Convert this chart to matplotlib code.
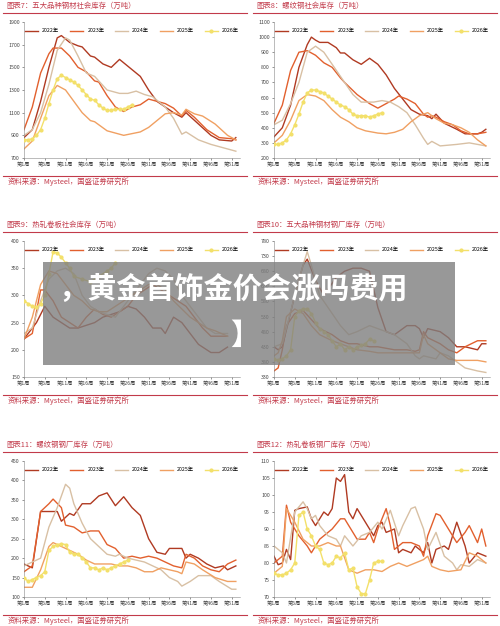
import matplotlib
matplotlib.use("Agg")
import matplotlib.pyplot as plt
from matplotlib.patches import Rectangle
from matplotlib.lines import Line2D

plt.rcParams['font.family'] = ['Noto Sans CJK SC', 'DejaVu Sans']

years = ["2022年", "2023年", "2024年", "2025年", "2026年"]
colors = ["#b03a22", "#e2602e", "#d8c0a4", "#f0a062", "#f3e06a"]
xtick_weeks = [1, 6, 11, 16, 21, 26, 31, 36, 41, 46, 51]
xtick_labels = ["第1周", "第6周", "第11周", "第16周", "第21周", "第26周", "第31周", "第36周", "第41周", "第46周", "第51周"]
source_text = "资料来源：Mysteel，国盛证券研究所"

titles = ["图表7：五大品种钢材社会库存（万吨）", "图表8：螺纹钢社会库存（万吨）",
          "图表9：热轧卷板社会库存（万吨）", "图表10：五大品种钢材钢厂库存（万吨）",
          "图表11：螺纹钢钢厂库存（万吨）", "图表12：热轧卷板钢厂库存（万吨）"]
yticks = [[700, 900, 1100, 1300, 1500, 1700, 1900],
          [200, 300, 400, 500, 600, 700, 800, 900, 1000, 1100],
          [150, 200, 250, 300, 350, 400],
          [330, 380, 430, 480, 530, 580, 630, 680, 730, 780],
          [100, 150, 200, 250, 300, 350, 400, 450],
          [70, 75, 80, 85, 90, 95, 100, 105, 110]]

# Panel 7
p7_2022_w = [1,3,5,7,9,10,12,14,15,17,18,20,22,24,27,29,31,33,35,37,39,40,43,46,48,51,52]
p7_2022_v = [880,950,1200,1500,1760,1780,1720,1690,1680,1600,1590,1530,1500,1570,1480,1420,1300,1200,1150,1100,1060,1100,1000,900,860,850,880]
p7_2023_w = [1,3,5,7,8,10,12,14,16,18,19,21,23,25,27,29,31,33,35,37,39,40,42,45,48,51,52]
p7_2023_v = [950,1150,1450,1620,1670,1670,1600,1500,1460,1380,1370,1250,1150,1110,1150,1170,1220,1200,1180,1140,1070,1120,1060,950,880,870,860]
p7_2024_w = [1,3,5,7,9,11,12,14,16,18,21,24,26,28,30,32,35,37,39,40,43,46,49,52]
p7_2024_v = [900,950,1100,1350,1650,1760,1740,1600,1450,1420,1300,1270,1270,1290,1260,1240,1150,1050,910,930,860,820,790,760]
p7_2025_w = [1,3,5,7,9,11,13,15,17,18,21,23,25,27,29,31,33,35,37,39,40,42,44,47,50,52]
p7_2025_v = [780,850,1050,1250,1340,1300,1200,1100,1030,1020,940,920,900,915,930,970,1030,1090,1100,1080,1130,1090,1070,1000,900,860]
p7_2026_w = list(range(1, 28))
p7_2026_v = [860,860,870,900,950,1050,1180,1300,1400,1430,1410,1390,1370,1340,1300,1260,1220,1210,1170,1140,1120,1120,1130,1130,1130,1150,1170]

# Panel 8
p8_2022_w = [1,3,5,7,9,10,11,12,14,16,17,18,20,22,24,26,28,30,32,34,36,38,39,40,42,45,47,50,51,52]
p8_2022_v = [340,400,550,800,950,1000,980,965,965,930,895,895,850,820,860,820,750,660,590,520,490,480,460,490,430,390,360,360,370,390]
p8_2023_w = [1,3,5,7,9,11,13,15,17,18,21,24,26,28,30,31,33,35,37,38,39,40,42,44,46,48,50,52]
p8_2023_v = [430,550,780,900,910,880,830,800,730,700,620,560,530,560,590,610,590,560,490,470,480,470,440,420,380,360,360,370]
p8_2024_w = [1,3,5,7,9,11,13,15,18,20,22,25,27,29,31,33,35,37,38,39,41,45,48,50,52]
p8_2024_v = [420,450,560,700,900,940,900,820,700,620,570,570,580,570,540,500,420,330,290,310,280,290,300,290,280]
p8_2025_w = [1,3,5,7,9,11,13,15,17,19,21,23,26,28,30,32,34,36,38,40,42,44,46,48,50,52]
p8_2025_v = [300,350,450,580,620,610,580,520,470,440,400,380,365,360,370,390,440,480,500,460,430,420,400,370,320,280]
p8_2026_w = list(range(1, 28))
p8_2026_v = [290,290,300,320,360,420,490,570,630,650,650,640,630,610,590,570,550,540,520,490,480,480,480,470,480,490,500]

# Panel 9
p9_2022_w = [1,4,6,8,10,12,14,16,18,20,22,24,26,28,30,32,34,35,37,39,41,43,46,48,50]
p9_2022_v = [220,250,280,260,250,240,240,245,250,260,265,270,280,275,260,240,240,230,260,250,230,210,195,195,205]
p9_2023_w = [1,3,5,6,8,10,12,14,16,18,20,22,24,26,28,30,32,34,36,38,40,42,44,46,50]
p9_2023_v = [220,230,310,310,290,260,250,240,260,275,265,260,270,280,300,310,320,310,300,290,280,260,240,225,225]
p9_2024_w = [1,3,5,7,9,11,13,15,17,19,21,23,25,27,29,31,33,35,37,39,41,43,45,47,50]
p9_2024_v = [230,240,290,330,345,350,340,300,280,270,265,260,280,300,320,340,350,345,330,300,280,260,240,230,230]
p9_2025_w = [1,3,5,7,9,11,13,15,17,19,21,23,25,27,29,31,33,35,37,39,41,43,45,47,50]
p9_2025_v = [220,260,320,345,340,320,300,290,275,270,270,280,290,300,310,320,320,310,290,275,260,250,240,235,225]
p9_2026_w = [1,2,3,4,5,6,7,8,9,10,11,12,13,15,17,19,21,22,23]
p9_2026_v = [290,285,280,278,285,300,340,380,378,370,360,350,335,330,325,335,345,350,360]

# Panel 10
p10_2022_w = [1,2,3,6,8,9,11,13,16,18,20,22,24,26,28,30,33,35,36,37,38,41,43,45,47,50,51,52]
p10_2022_v = [430,420,430,600,700,720,650,600,660,680,690,690,680,560,480,470,500,500,490,460,490,480,460,430,430,420,440,440]
p10_2023_w = [1,2,3,4,6,8,10,12,15,17,19,21,24,26,28,30,33,35,36,37,38,41,43,45,47,50,51,52]
p10_2023_v = [350,360,420,500,540,550,520,490,470,450,440,440,430,430,425,420,420,415,420,480,460,440,420,410,430,450,450,450]
p10_2024_w = [1,3,6,8,9,10,12,15,17,19,21,24,26,28,30,33,35,36,37,40,41,43,45,47,50,52]
p10_2024_v = [430,440,600,700,745,700,600,540,500,470,480,500,490,480,470,440,400,390,400,390,410,400,380,360,350,345]
p10_2025_w = [1,2,3,4,6,8,10,12,15,17,19,21,24,26,28,30,33,35,36,37,38,41,43,45,47,50,52]
p10_2025_v = [400,410,450,530,555,540,500,470,450,440,430,420,415,410,410,410,410,410,410,470,440,410,390,385,385,385,380]
p10_2026_w = [1,2,3,4,5,6,7,8,9,10,11,12,13,14,15,16,17,18,19,20,21,22,23,24,25]
p10_2026_v = [390,385,390,400,420,530,550,555,555,540,510,490,480,470,450,430,440,420,430,420,430,435,440,455,450]

# Panel 11
p11_2022_w = [1,3,5,7,9,10,12,13,15,17,19,21,23,25,27,29,31,33,35,36,39,40,41,43,45,47,49,50,52]
p11_2022_v = [185,175,320,320,320,295,315,310,340,340,360,368,335,358,330,310,250,215,210,225,225,200,210,200,185,175,180,170,180]
p11_2023_w = [1,3,4,5,7,8,10,11,13,15,17,19,21,23,25,27,29,31,33,35,37,39,40,42,44,46,48,50,52]
p11_2023_v = [165,180,250,320,340,352,330,285,280,265,270,270,235,225,200,205,200,205,200,190,180,175,210,200,180,170,165,185,195]
p11_2024_w = [1,3,5,7,9,10,11,12,13,15,17,19,21,23,24,26,28,30,32,34,36,38,39,41,43,46,48,51,52]
p11_2024_v = [180,190,200,280,330,360,390,380,340,290,250,230,210,205,210,200,195,190,180,170,150,140,128,140,155,155,140,120,120]
p11_2025_w = [1,3,5,7,8,10,12,14,16,18,20,22,24,26,28,30,32,34,36,38,39,40,42,44,47,50,52]
p11_2025_v = [125,125,170,230,240,230,220,210,195,185,185,185,180,180,175,165,165,175,170,165,160,190,185,170,150,140,140]
p11_2026_w = list(range(1, 27))
p11_2026_v = [150,140,145,150,155,165,220,230,235,237,235,215,210,210,200,190,175,175,170,175,170,175,180,185,190,195]

# Panel 12
p12_2022_w = [1,2,3,4,5,6,7,9,10,11,13,14,15,16,17,18,19,20,21,23,25,26,27,28,30,31,32,34,35,37,38,39,40,42,43,45,47,48,50,52]
p12_2022_v = [82,79.5,80,84,81,95.5,96,96.5,93,91,95,94,96,105,104,106,95,93,96,92,88,91,92,89,90,83,84,83,85,83,86,80,84,85,84,92,85,80,83,82]
p12_2023_w = [1,3,4,5,7,9,10,12,14,15,17,18,20,21,23,24,25,26,28,29,30,32,34,36,37,38,40,41,43,45,47,48,50,51,52]
p12_2023_v = [80,82,97,92,88,85,83,87,89,90,93,93,89,87,87,89,86,90,96,91,84,86,86,85,82,88,94.5,94,90,86,89,91,86,90,85]
p12_2024_w = [1,3,4,6,8,9,10,11,12,14,16,17,18,20,22,24,26,27,29,31,32,34,35,37,38,40,42,44,45,46,48,50,52]
p12_2024_v = [85,83,80,95,98,96,93,94,91,88,87,85,88,85,88,89,92,90,95.5,88,91,96,96.5,90,84,89,82,80,78,79.5,79,81,80]
p12_2025_w = [1,3,4,6,8,10,12,14,16,17,19,21,23,25,27,29,31,33,35,37,38,39,41,43,46,48,50,52]
p12_2025_v = [77,79,96,92,87,85,85,86,85,85,78,77,78,78,77.5,79,80,79,80,81,82,79,78,77.5,78,83,82,80]
p12_2026_w = list(range(1, 28))
p12_2026_v = [77,76.5,76.5,77,78,80,94,95,90,88,85,84,80,79.5,80,82,81.5,83,78,78.5,73,71,71,75,80,80.5,80.5]

panels = [
    [(p7_2022_w, p7_2022_v), (p7_2023_w, p7_2023_v), (p7_2024_w, p7_2024_v), (p7_2025_w, p7_2025_v), (p7_2026_w, p7_2026_v)],
    [(p8_2022_w, p8_2022_v), (p8_2023_w, p8_2023_v), (p8_2024_w, p8_2024_v), (p8_2025_w, p8_2025_v), (p8_2026_w, p8_2026_v)],
    [(p9_2022_w, p9_2022_v), (p9_2023_w, p9_2023_v), (p9_2024_w, p9_2024_v), (p9_2025_w, p9_2025_v), (p9_2026_w, p9_2026_v)],
    [(p10_2022_w, p10_2022_v), (p10_2023_w, p10_2023_v), (p10_2024_w, p10_2024_v), (p10_2025_w, p10_2025_v), (p10_2026_w, p10_2026_v)],
    [(p11_2022_w, p11_2022_v), (p11_2023_w, p11_2023_v), (p11_2024_w, p11_2024_v), (p11_2025_w, p11_2025_v), (p11_2026_w, p11_2026_v)],
    [(p12_2022_w, p12_2022_v), (p12_2023_w, p12_2023_v), (p12_2024_w, p12_2024_v), (p12_2025_w, p12_2025_v), (p12_2026_w, p12_2026_v)],
]

W, H = 500, 626
fig = plt.figure(figsize=(5, 6.26), dpi=100)
fig.patch.set_facecolor("white")
red = "#c23a4a"
row_tops = [0, 219, 439]
col_lefts = [0, 250]

def fx(px): return px / W
def fy(py): return 1 - py / H

for i in range(6):
    r, c = divmod(i, 2)
    t = row_tops[r]
    l = col_lefts[c]
    fig.text(fx(l + 6), fy(t + 6), titles[i], fontsize=5.3, color=red, style="italic", va="center")
    fig.add_artist(Line2D([fx(l + 3), fx(l + 247)], [fy(t + 13), fy(t + 13)], color=red, lw=0.8))
    fig.add_artist(Line2D([fx(l + 3), fx(l + 247)], [fy(t + 176), fy(t + 176)], color=red, lw=0.8))
    fig.text(fx(l + 8), fy(t + 182), source_text, fontsize=5.3, color=red, style="italic", va="center")
    ax = fig.add_axes([fx(l + 24), fy(t + 158), (216) / W, (136) / H])
    for k in range(5):
        w, v = panels[i][k]
        if k == 4:
            ax.plot(w, v, color=colors[k], lw=1.0, marker="o", ms=2, label=years[k], zorder=5)
        else:
            ax.plot(w, v, color=colors[k], lw=1.0, label=years[k])
    yt = yticks[i]
    ax.set_ylim(yt[0], yt[-1])
    ax.set_yticks(yt)
    ax.set_xlim(1, 53)
    ax.set_xticks(xtick_weeks)
    ax.set_xticklabels(xtick_labels)
    ax.tick_params(axis="both", labelsize=3.8, length=1.5, width=0.4, colors="#444444", pad=1.5)
    for s in ["top", "right"]:
        ax.spines[s].set_visible(False)
    for s in ["left", "bottom"]:
        ax.spines[s].set_linewidth(0.4)
        ax.spines[s].set_color("#888888")
    ax.legend(loc="upper center", ncol=5, fontsize=3.8, frameon=False, handlelength=2.5,
              columnspacing=2.0, bbox_to_anchor=(0.5, 0.98), borderaxespad=0.3)

# gray overlay with text
fig.add_artist(Rectangle((fx(43), fy(365)), 412 / W, 103 / H, transform=fig.transFigure,
                         facecolor="#7f7f7f", alpha=0.8, edgecolor="none", zorder=10))
fig.text(fx(58), fy(289), "，黄金首饰金价会涨吗费用", fontsize=21, color="white", weight="bold",
         va="center", zorder=11)
fig.text(fx(230), fy(335), "】", fontsize=21, color="white", weight="bold", va="center", zorder=11)

fig.savefig("out.png", dpi=100, facecolor="white")
